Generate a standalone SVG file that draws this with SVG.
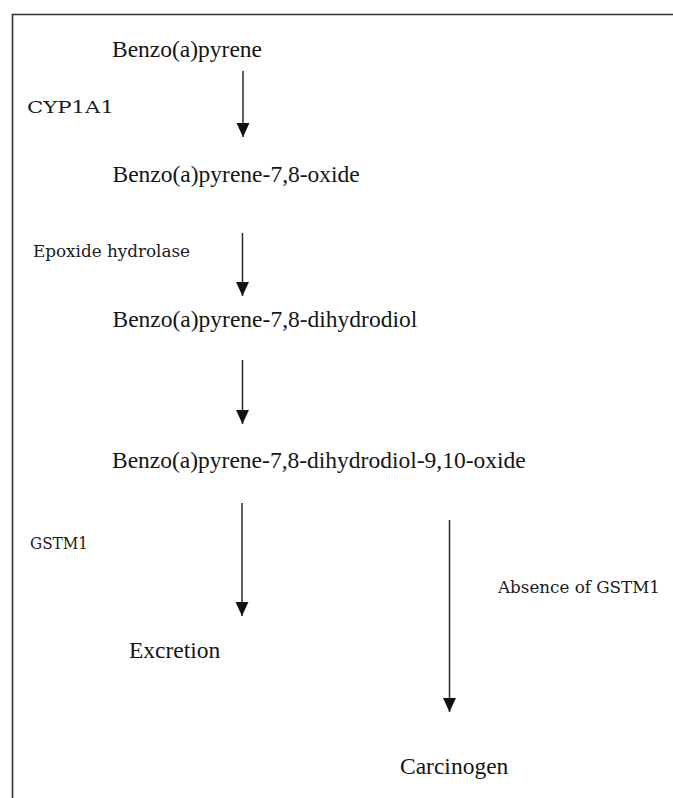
<svg xmlns="http://www.w3.org/2000/svg" width="673" height="798" viewBox="0 0 673 798">
<style>
.node{font-family:"Liberation Serif","Times New Roman",serif;font-size:23.5px;fill:#151515}
.lbl{font-family:"DejaVu Serif","Liberation Serif",serif;font-size:17px;fill:#1a1a1a}
.arrow{stroke:#2a2a2a;stroke-width:1.5;fill:none;marker-end:url(#ah)}
</style>
<defs>
<marker id="ah" markerUnits="userSpaceOnUse" markerWidth="14" markerHeight="14" refX="13" refY="6" orient="auto" viewBox="0 0 13 12">
<path d="M0,0 L13,6 L0,12 Z" fill="#111"/>
</marker>
</defs>
<rect x="0" y="0" width="673" height="798" fill="#fff"/>
<path d="M12.5,798 V14.5 H673" stroke="#333" stroke-width="1.6" fill="none"/>
<g id="connectors">
<line class="arrow" x1="243" y1="71" x2="243" y2="137"/>
<line class="arrow" x1="242.5" y1="233" x2="242.5" y2="296"/>
<line class="arrow" x1="242.5" y1="360" x2="242.5" y2="424"/>
<line class="arrow" x1="242" y1="503" x2="242" y2="616"/>
<line class="arrow" x1="449.5" y1="520" x2="449.5" y2="712"/>
</g>
<g id="n1"><text class="node" x="112" y="57">Benzo(a)pyrene</text></g>
<g id="n2"><text class="node" x="112.5" y="182">Benzo(a)pyrene-7,8-oxide</text></g>
<g id="n3"><text class="node" x="112.5" y="327">Benzo(a)pyrene-7,8-dihydrodiol</text></g>
<g id="n4"><text class="node" x="112" y="468">Benzo(a)pyrene-7,8-dihydrodiol-9,10-oxide</text></g>
<g id="n5"><text class="node" x="129" y="658">Excretion</text></g>
<g id="n6"><text class="node" x="400" y="774">Carcinogen</text></g>
<g id="labels">
<text class="lbl" x="27" y="113" textLength="87" lengthAdjust="spacingAndGlyphs">CYP1A1</text>
<text class="lbl" x="33" y="257" textLength="157" lengthAdjust="spacingAndGlyphs">Epoxide hydrolase</text>
<text class="lbl" x="30" y="549" textLength="58" lengthAdjust="spacingAndGlyphs">GSTM1</text>
<text class="lbl" x="498" y="593" textLength="162" lengthAdjust="spacingAndGlyphs">Absence of GSTM1</text>
</g>
</svg>
